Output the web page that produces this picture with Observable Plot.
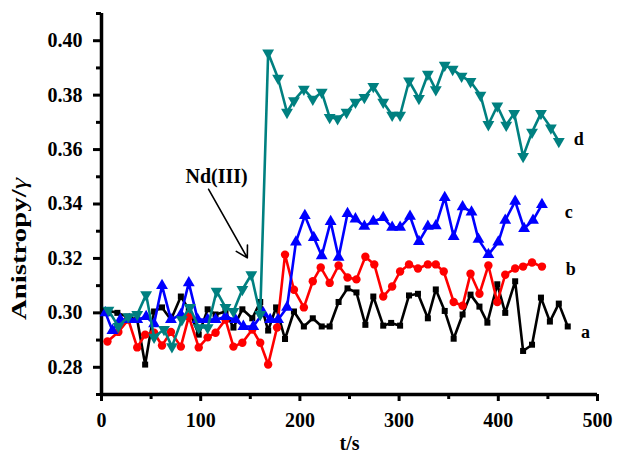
<!DOCTYPE html>
<html>
<head>
<meta charset="utf-8">
<script src="https://cdn.jsdelivr.net/npm/d3@7"></script>
<script src="https://cdn.jsdelivr.net/npm/@observablehq/plot@0.6"></script>
<style>
  html, body { margin: 0; padding: 0; background: #fff; }
  #chart svg { display: block; }
</style>
</head>
<body>
<div id="chart"></div>
<script>
// ---- data ----
const tA = [4,16,26,36,44,53,61,70,80,88,98,107,115,125,133,142,152,160,168,176,185,194,204,213,222,230,239,248,257,266,274,284,292,301,310,319,329,337,346,355,364,372,381,389,399,407,417,425,434,443,452,461,470];
const vA = [0.301,0.300,0.2986,0.2975,0.281,0.3005,0.302,0.2975,0.306,0.3013,0.292,0.3013,0.2994,0.3005,0.2946,0.3013,0.298,0.304,0.2935,0.302,0.2904,0.3005,0.295,0.298,0.295,0.295,0.304,0.309,0.3075,0.2956,0.306,0.2953,0.2963,0.2953,0.3064,0.307,0.298,0.3086,0.3007,0.2905,0.2994,0.3067,0.3023,0.2964,0.3105,0.300,0.3116,0.286,0.2883,0.3056,0.2968,0.3034,0.295];

const tB = [6,17,27,36,44,53,61,70,80,88,98,107,115,125,133,142,152,160,168,177,185,194,204,213,221,230,239,248,257,266,275,284,293,301,310,319,329,337,345,355,364,372,381,390,399,407,417,425,434,444];
const vB = [0.2895,0.293,0.2975,0.2873,0.292,0.2927,0.288,0.293,0.2876,0.2986,0.2873,0.291,0.2927,0.2975,0.2876,0.289,0.2939,0.289,0.281,0.2946,0.3214,0.3085,0.302,0.3116,0.3167,0.311,0.3174,0.313,0.3123,0.3206,0.3178,0.306,0.3097,0.3152,0.3178,0.3163,0.3178,0.3178,0.3152,0.304,0.3026,0.3144,0.307,0.3174,0.304,0.314,0.3163,0.317,0.3185,0.317];

const tC = [4,11,19,28,36,45,53,61,70,80,88,97,107,115,125,135,143,153,163,170,178,187,196,205,214,222,231,239,248,256,265,274,284,293,301,311,320,329,337,346,355,364,373,380,390,400,407,417,426,435,444];
const vC = [0.300,0.2935,0.2975,0.2975,0.2975,0.2986,0.296,0.310,0.2975,0.2994,0.311,0.2975,0.2975,0.2975,0.2986,0.2975,0.295,0.295,0.300,0.2975,0.2975,0.302,0.326,0.3357,0.3277,0.321,0.3335,0.3204,0.3365,0.3345,0.3318,0.3336,0.335,0.3314,0.3314,0.3355,0.3262,0.3318,0.332,0.3424,0.328,0.339,0.337,0.327,0.3214,0.326,0.334,0.341,0.331,0.334,0.3398];

const tD = [7,17,27,36,45,53,63,71,81,89,98,107,116,125,133,142,151,160,168,178,187,194,204,213,222,230,238,247,256,265,274,284,293,301,310,320,329,337,346,354,363,372,382,390,399,408,416,425,434,443,453,461];
const vD = [0.301,0.295,0.2986,0.2994,0.3067,0.2911,0.2939,0.2876,0.2975,0.302,0.2946,0.2946,0.308,0.302,0.3005,0.3086,0.314,0.2994,0.3955,0.3862,0.3737,0.378,0.3822,0.3785,0.3811,0.3718,0.3714,0.3737,0.3774,0.3792,0.3832,0.3774,0.3726,0.3726,0.3852,0.3788,0.3877,0.382,0.391,0.3895,0.387,0.385,0.380,0.3692,0.376,0.369,0.3733,0.3575,0.3664,0.3733,0.368,0.363];

const seriesNames = ["a", "b", "c", "d"];
const labelT = [488, 473, 471, 481];
const labelV = [0.2928, 0.316, 0.337, 0.3637];

const xTicks = [0, 100, 200, 300, 400, 500];
const xMinor = [50, 150, 250, 350, 450];
const yTicks = [0.28, 0.30, 0.32, 0.34, 0.36, 0.38, 0.40];
const yMinor = [0.27, 0.29, 0.31, 0.33, 0.35, 0.37, 0.39, 0.41];

const annText = "Nd(III)";
const annT = 116, annV = 0.350;
const arrowFrom = [108, 0.3454];
const arrowTo = [147, 0.3202];

// ---- build ----
const toRows = (ts, vs) => ts.map((t, i) => ({t, v: vs[i]}));
const A = toRows(tA, vA), B = toRows(tB, vB), C = toRows(tC, vC), D = toRows(tD, vD);
const labels = seriesNames.map((s, i) => ({s, t: labelT[i], v: labelV[i]}));

const triDown = {
  draw(ctx, size) {
    const y = -Math.sqrt(size / (Math.sqrt(3) * 3));
    const s3 = Math.sqrt(3);
    ctx.moveTo(0, -2 * y);
    ctx.lineTo(-s3 * y, y);
    ctx.lineTo(s3 * y, y);
    ctx.closePath();
  }
};

const font = "Liberation Serif, Times New Roman, serif";
const colA = "#000000", colB = "#ff0000", colC = "#0000ff", colD = "#008080";
const lw = 2.6;

const chart = Plot.plot({
  width: 633,
  height: 455,
  marginLeft: 101,
  marginRight: 36,
  marginTop: 13,
  marginBottom: 61,
  style: {fontFamily: font, fontWeight: "bold", fontSize: "20px", color: "#000", background: "#fff"},
  x: {domain: [0, 500]},
  y: {domain: [0.27, 0.41]},
  marks: [
    Plot.axisX({ticks: xTicks, tickSize: 7, tickPadding: 11, strokeWidth: 3, label: null, tickFormat: d3.format("d")}),
    Plot.axisX({ticks: xMinor, tickSize: 5, strokeWidth: 3, label: null, tickFormat: () => ""}),
    Plot.axisY({ticks: yTicks, tickSize: 8, tickPadding: 11, strokeWidth: 3, label: null, tickFormat: d3.format(".2f")}),
    Plot.axisY({ticks: yMinor, tickSize: 5, strokeWidth: 3, label: null, tickFormat: () => ""}),
    Plot.ruleX([0], {strokeWidth: 3.5}),
    Plot.ruleY([0.27], {strokeWidth: 3.5}),

    Plot.line(A, {x: "t", y: "v", stroke: colA, strokeWidth: lw}),
    Plot.dot(A, {x: "t", y: "v", symbol: "square", fill: colA, r: 3.4}),
    Plot.line(B, {x: "t", y: "v", stroke: colB, strokeWidth: lw}),
    Plot.dot(B, {x: "t", y: "v", symbol: "circle", fill: colB, r: 4.2}),
    Plot.line(C, {x: "t", y: "v", stroke: colC, strokeWidth: lw}),
    Plot.dot(C, {x: "t", y: "v", symbol: "triangle", fill: colC, r: 4.4}),
    Plot.line(D, {x: "t", y: "v", stroke: colD, strokeWidth: lw}),
    Plot.dot(D, {x: "t", y: "v", symbol: triDown, fill: colD, r: 4.4}),

    Plot.text(labels, {x: "t", y: "v", text: "s", fontSize: 18, fontWeight: "bold", fill: "#000"}),
    Plot.text([annText], {x: () => annT, y: () => annV, text: d => d, fontSize: 20, fontWeight: "bold", fill: "#000"}),
    Plot.arrow([{x1: arrowFrom[0], y1: arrowFrom[1], x2: arrowTo[0], y2: arrowTo[1]}],
      {x1: "x1", y1: "y1", x2: "x2", y2: "y2", stroke: "#000", strokeWidth: 1.6, headLength: 12, bend: 0}),

    Plot.text(["t/s"], {frameAnchor: "bottom", dy: 55, text: d => d, fontSize: 20, fontWeight: "bold", fill: "#000"}),
    Plot.text(["Anistropy/γ"], {frameAnchor: "left", textAnchor: "middle", dx: -82, dy: 45, rotate: -90, text: d => d, fontSize: 20, fontWeight: "bold", fill: "#000", className: "ylab"})
  ]
});

// italic gamma in the y-axis title; stretched like the reference lettering
d3.select(chart).selectAll("g.ylab text").each(function () {
  const el = d3.select(this);
  el.text(null);
  el.append("tspan").text("Anistropy/");
  el.append("tspan").attr("font-style", "italic").attr("font-weight", "normal").text("γ");
  el.attr("textLength", 142).attr("lengthAdjust", "spacingAndGlyphs");
});

document.getElementById("chart").appendChild(chart);
</script>
</body>
</html>
